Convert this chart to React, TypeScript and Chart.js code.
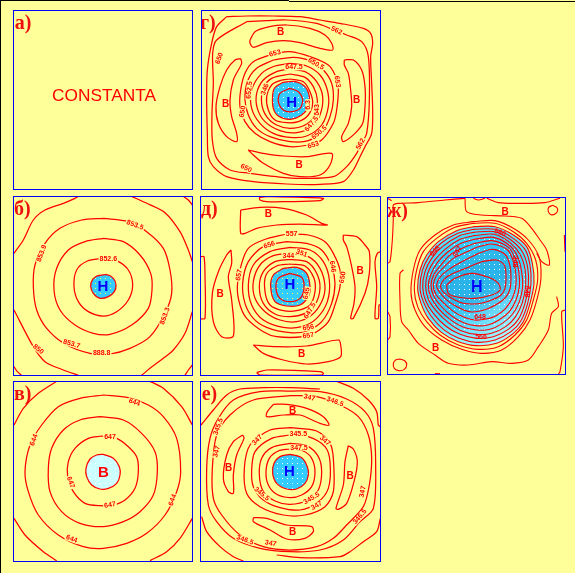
import React, { useEffect, useRef } from "react";
import { Chart, registerables } from "chart.js";

Chart.register(...registerables);

// All contour coordinates are flat x,y lists, in each panel's own 0.33 px map units.
const LINE = "#FF0000";
const BG = "#FFFF99";

// panel г
const gClosed = [
  [680,50,740,48,820,48,900,50,960,60,1020,70,1090,85,1112,100,1118,130,1112,170,1115,250,1118,330,1115,400,1095,440,1080,470,1060,510,1030,545,960,553,860,552,760,545,680,530,640,500,625,470,622,400,620,300,622,210,635,130,650,80],
  [740,65,800,62,860,60,950,70,990,85,1040,105,1085,125,1105,170,1108,300,1100,400,1085,430,1070,460,1040,500,1000,530,900,535,830,530,750,520,690,510,650,475,637,420,636,340,640,250,638,160,650,120],
  [750,120,765,95,800,82,860,75,930,85,975,105,995,130,998,150,960,145,900,128,850,122,800,128,760,142,750,130],
  [1033,180,1060,180,1085,210,1095,260,1095,320,1088,370,1065,400,1030,425,1025,410,1045,370,1055,320,1052,270,1045,220,1033,195],
  [745,450,790,460,850,468,920,470,995,460,990,495,960,525,900,530,850,520,790,490,760,465],
  [722,176,725,190,700,240,690,300,695,350,710,400,710,425,680,410,655,370,648,320,660,260,680,210,705,180],
  [825,160,870,155,930,170,985,195,1005,225,1015,265,1010,330,1000,370,965,420,925,435,870,440,810,425,765,400,735,365,720,320,722,270,735,220,760,185],
  [820,180,880,172,930,182,970,210,995,250,1000,300,990,350,970,390,925,422,870,425,810,410,770,385,745,345,735,300,742,245,770,205],
  [870,190,920,198,960,225,982,270,985,320,965,375,920,408,870,412,820,400,780,370,755,325,755,270,785,220,825,198],
  [870,207,915,215,950,245,968,290,960,345,935,380,890,398,840,392,795,365,772,325,770,280,790,240,830,215],
  [870,222,915,232,940,260,952,300,945,345,915,375,870,385,830,375,800,350,785,310,790,265,815,235],
  [870,237,910,245,930,275,938,310,925,345,895,365,860,368,825,360,805,330,800,290,815,255,840,242],
];
const gFill = [850,247,885,245,915,260,928,290,925,320,905,345,870,358,835,348,820,325,818,285,825,262];
const gInner = [870,265,895,275,908,300,900,325,875,335,850,330,835,305,840,280];
const gLabels: [string, number, number, number][] = [
  ["В",842,97,0],["В",1070,300,0],["В",897,495,0],["В",677,313,0],
];
const gSmall: [string, number, number, number][] = [
  ["562",1010,92,25],["650",658,175,-70],["653",825,160,-15],["650.5",948,192,30],["647.5",882,202,0],
  ["652.5",748,270,-85],["346",795,268,-70],["6.3",925,315,-90],["643",950,330,-90],["647.5",935,372,-50],
  ["650.5",958,398,-40],["653",940,435,-20],["653",1012,245,80],["562",1082,432,-60],["650",738,505,25],["650",728,335,-80],
];

// panel б
const bClosed = [
  [310,205,350,212,385,240,398,285,385,330,350,365,310,378,265,365,235,335,222,290,230,240,262,213],
  [310,145,370,155,420,195,452,250,456,300,445,355,395,405,330,433,280,430,225,405,180,360,162,300,170,235,205,180,255,155],
  [310,85,385,95,440,125,490,175,510,240,515,310,495,370,450,440,390,475,330,492,270,490,195,462,140,415,110,360,100,290,105,225,135,160,180,115,245,90],
];
const bOpen = [
  [42,190,70,150,100,90,135,60,190,40,225,25,235,19],
  [395,19,445,42,495,68,540,125,565,180,577,215],
  [577,365,555,430,520,480,490,505,450,535,425,556],
  [235,556,190,540,135,515,100,470,42,360],
  [550,19,565,30,577,45],[42,530,52,545,65,556],[555,556,565,540,577,525],
];
const bFill = [290,258,320,254,340,265,348,285,343,305,325,320,300,325,280,310,272,288,278,268];
const bSmall: [string, number, number, number][] = [
  ["852.6",325,207,0],["853.5",405,105,20],["853.9",125,190,-70],["853.3",495,378,-70],
  ["853.7",215,462,15],["888.8",305,490,0],["850",115,478,40],
];

// panel в
const vClosed = [
  [305,183,350,190,385,215,410,245,415,290,405,340,375,375,340,390,300,392,255,385,220,350,203,305,205,260,225,220,265,190],
  [300,125,370,135,425,175,465,230,472,290,460,360,420,410,370,440,310,455,240,445,185,410,150,350,145,280,155,220,190,165,240,135],
  [310,60,385,68,445,90,490,125,530,190,542,290,530,350,495,420,440,475,380,505,310,520,250,515,175,480,115,420,85,350,75,290,90,210,125,150,175,95,240,70],
];
const vOpen = [
  [42,150,70,100,115,55,170,19],[450,19,490,40,545,95,577,150],
  [577,430,540,490,500,530,450,557],[170,557,130,530,75,480,42,430],
];
const vFill = [310,238,340,250,358,275,360,300,350,325,325,340,300,342,275,330,260,305,258,280,270,252,290,240];
const vSmall: [string, number, number, number][] = [
  ["647",330,185,0],["647",212,322,70],["647",330,390,-10],["644",403,82,20],
  ["644",102,195,-70],["644",518,375,-70],["644",215,492,20],
];

// panel д
const dClosed = [
  [860,132,925,135,975,155,1000,190,1020,240,1020,290,1005,345,985,395,950,425,910,440,830,440,790,425,740,385,720,345,712,290,725,220,745,175,790,150],
  [860,155,920,160,965,180,995,230,1005,280,995,340,965,395,920,423,870,428,800,412,760,385,735,340,728,280,745,215,790,170],
  [870,172,930,180,970,215,988,270,982,335,950,385,905,410,850,412,790,390,755,345,745,285,760,225,810,185],
  [870,190,925,200,960,235,975,290,965,335,935,375,890,395,840,390,795,365,765,325,760,275,780,225,820,197],
  [870,208,920,215,950,250,960,295,945,345,915,370,870,380,825,372,790,340,778,290,790,245,825,215],
  [870,222,915,228,942,265,945,305,930,345,890,362,850,362,810,345,795,305,798,255,830,228],
  [722,60,780,52,850,55,920,75,965,100,982,105,900,102,830,105,770,115,735,130,722,130],
  [778,22,800,20,970,25,960,32,860,35,800,35,780,30],
  [1030,135,1070,140,1095,165,1108,185,1108,250,1095,310,1060,385,1052,385,1062,340,1065,290,1055,230,1040,170,1030,150],
  [693,180,695,220,685,260,695,330,700,438,665,440,640,395,637,310,655,245,680,195],
  [760,465,830,470,920,468,1015,450,1022,465,1022,500,985,515,920,522,850,510,790,490],
  [770,548,800,540,960,545,970,550,965,555,780,555],
];
const dOpen = [
  [1141,185,1132,190,1125,215,1130,290,1125,385,1135,385,1137,345,1141,345],
  [603,200,612,200,615,260,615,385,603,387],
];
const dFill = [850,235,890,232,920,250,930,290,925,320,900,345,860,348,825,335,812,290,820,255];
const dInner = [870,250,905,262,912,295,900,325,870,335,840,325,828,295,835,265];
const dLabels: [string, number, number, number][] = [
  ["В",805,72,0],["В",1080,245,0],["В",660,313,0],["В",905,493,0],
];
const dSmall: [string, number, number, number][] = [
  ["557",875,132,0],["656",808,165,-20],["351",905,190,20],["344",865,198,0],["646",998,230,80],
  ["650",1028,262,-80],["657",717,255,-80],["645",920,310,-80],["647.5",930,362,-60],["656",925,413,-10],["657",925,437,-10],
];

// panel е
const eClosed = [
  [870,222,910,228,935,250,945,290,935,335,905,360,870,368,830,358,805,330,798,290,808,250,835,228],
  [870,205,920,212,955,245,965,290,955,345,925,375,870,388,825,378,790,350,778,300,785,250,815,218],
  [870,180,925,185,975,215,990,260,985,340,950,385,900,405,840,398,790,375,760,335,755,285,765,230,815,190],
  [870,158,950,168,990,205,1000,250,1000,350,975,395,915,420,850,420,780,395,740,355,733,280,750,210,810,165],
  [820,88,860,88,920,100,970,125,987,150,960,145,900,120,850,120,800,125,802,110],
  [1045,212,1060,222,1072,260,1062,320,1040,385,1015,403,1008,400,1030,330,1035,260],
  [728,180,732,190,710,240,700,300,700,355,685,350,670,310,680,240,700,200],
  [760,428,800,430,860,450,935,455,940,470,915,490,860,492,810,465,760,440],
  [870,62,950,65,1020,90,1075,125,1105,180,1115,250,1108,330,1090,395,1040,450,1000,490,950,515,870,525,790,515,720,480,665,420,640,370,637,280,650,180,690,120,760,75],
  [870,48,960,50,1040,72,1095,110,1120,160,1127,270,1120,400,1080,440,1030,495,960,525,870,530,780,520,700,490,650,440,625,390,620,280,630,190,655,130,700,75,780,50],
];
const eOpen = [
  [603,150,640,105,680,60,720,42,790,38,870,38,960,42],
  [1010,19,1060,40,1105,75,1130,110,1135,150,1141,155],
  [1141,430,1130,470,1090,500,1050,530,1020,545,900,548,830,540],
  [605,425,620,470,660,515,700,545,730,558],
];
const eFill = [870,238,905,248,922,275,925,300,915,325,890,342,860,342,830,325,818,295,822,265,840,245];
const eLabels: [string, number, number, number][] = [
  ["В",878,110,0],["В",1050,303,0],["В",686,280,0],["В",878,472,0],
];
const eSmall: [string, number, number, number][] = [
  ["347.5",897,218,0],["345.5",895,178,0],["347",772,195,-45],["347",975,197,40],["347",928,68,15],
  ["346.5",1005,80,20],["345.5",655,155,-70],["347",650,230,-75],["345.5",785,357,40],["345.5",935,370,-30],
  ["347",950,392,-30],["347",1088,350,-80],["346.5",1080,425,-50],["346.5",735,495,20],["347",812,505,10],
];

// panel ж
const zhRings = [
  [265,110,330,110,385,135,425,170,442,220,447,280,435,340,415,395,385,430,335,460,275,467,220,455,170,428,130,385,108,340,98,295,105,240,125,195,160,155,215,122],
  [265,118,330,118,380,142,420,178,435,225,438,280,428,340,408,392,378,425,330,450,275,457,222,445,175,418,138,378,115,335,105,293,112,242,132,200,165,162,218,130],
  [265,127,330,125,378,150,412,185,428,232,430,285,420,340,400,388,370,418,325,440,275,445,225,433,182,408,145,370,122,332,113,292,120,245,140,205,172,170,222,138],
  [265,137,328,133,375,158,405,193,420,238,422,288,412,338,392,380,362,410,320,430,275,433,228,422,190,398,153,362,130,328,122,290,128,250,148,212,180,178,225,148],
  [268,148,325,142,372,165,398,200,410,245,413,290,403,335,383,372,352,400,315,418,275,420,232,410,195,388,160,355,138,322,130,288,137,255,157,218,188,186,228,160],
  [270,160,320,152,370,172,392,208,402,250,403,290,393,330,373,365,342,390,308,405,272,407,236,398,200,378,168,348,146,318,138,285,146,255,168,225,195,195,232,175],
  [275,172,320,162,368,180,385,215,393,255,392,292,382,325,362,355,332,378,300,388,268,390,238,382,205,364,175,338,152,312,145,285,155,255,178,230,205,205,240,188],
  [280,190,325,178,362,195,375,228,378,262,375,297,362,322,340,340,312,355,285,363,260,366,236,360,208,346,183,328,163,306,155,285,168,258,192,238,218,222,250,205],
  [290,215,335,210,358,225,363,255,360,295,348,315,325,328,295,338,265,342,235,340,210,330,190,318,172,303,167,285,180,265,205,250,235,238,265,225],
  [185,285,210,265,260,250,310,262,340,280,345,300,320,315,270,325,220,322,190,310],
];
const zhRingColors = ["#66EEFF","#55E5FF","#44DDFF","#3CD5FF","#33CCFF","#33CCFF","#33C4F8","#2DB8EC","#2AB4EA","#2AB4EA"];
const zhClosed = [
  [265,95,330,92,385,115,430,150,462,200,468,260,458,320,435,390,400,440,350,480,290,490,230,478,170,450,120,410,90,360,78,310,85,240,105,180,150,135,205,105],
  [265,100,330,100,385,125,425,160,452,210,458,270,445,330,425,390,390,435,340,470,280,478,220,465,165,435,125,395,98,350,88,300,95,240,115,185,155,145,210,112],
  [503,46,515,52,518,62,510,72,498,74,490,65,491,52],
  [45,507,60,513,65,525,58,538,42,542,28,535,25,520,32,510],
];
const zhOpen = [
  [240,25,245,65,290,75,360,78,410,85,440,115,465,150,485,180,493,225,470,215,455,190],
  [515,320,520,350,500,370,490,420,460,470,430,510,380,520,320,515,250,525,190,520,150,495,100,460,70,420,50,395,45,330,45,250,55,240],
  [240,25,180,30,100,38,40,40,25,45,25,80,22,150,15,215,8,220],
  [305,25,340,38,400,40,480,38,525,25],
  [8,365,15,380,15,440,8,450],[541,360,530,365,535,470,525,545,520,553],
  [538,135,539,160,540,185],[150,551,165,551],[265,25,280,30,300,25],[8,25,20,32],
];
const zhLabels: [string, number, number, number][] = [["В",360,68,0],["В",152,475,0]];
const zhSmall: [string, number, number, number][] = [
  ["648",285,380,0],["566",288,442,0],["560",345,128,20],["648",150,183,-45],["647",218,185,-60],["348",390,215,90],["648",425,305,90],
];

type Fill = { pts: number[]; color: string; dot?: string };
type Panel = {
  left: number; top: number; width: number; height: number; ox: number; oy: number;
  title: string; tx: number; ty: number;
  fills: Fill[];
  closed: number[][]; open: number[][];
  labels: [string, number, number, number][]; small: [string, number, number, number][];
  center?: [string, number, number, string, number]; text?: [string, number, number];
  noHalo?: boolean; lineWidth: number;
};

const panels: Panel[] = [
  { left: 13, top: 10, width: 180, height: 180, ox: 0, oy: 0, title: "а)", tx: 44, ty: 88, fills: [], closed: [], open: [], labels: [], small: [], text: ["CONSTANTA", 312, 290], lineWidth: 1.25 },
  { left: 201, top: 10, width: 180, height: 180, ox: 0, oy: 0, title: "г)", tx: 600, ty: 88, fills: [{ pts: gFill, color: "#33CCFF", dot: "#FFFFFF" }], closed: [...gClosed, gFill, gInner], open: [], labels: gLabels, small: gSmall, center: ["Н", 875, 310, "#0000FF", 15], lineWidth: 1.25 },
  { left: 13, top: 196, width: 180, height: 180, ox: 0, oy: 190, title: "б)", tx: 42, ty: 74, fills: [{ pts: bFill, color: "#33CCFF", dot: "#FFFF66" }], closed: [...bClosed, bFill], open: bOpen, labels: [], small: bSmall, center: ["Н", 309, 291, "#0000FF", 15], lineWidth: 1.25 },
  { left: 200, top: 196, width: 181, height: 180, ox: 0, oy: 190, title: "д)", tx: 603, ty: 74, fills: [{ pts: dFill, color: "#33CCFF", dot: "#FFFF66" }], closed: [...dClosed, dFill, dInner], open: dOpen, labels: dLabels, small: dSmall, center: ["Н", 870, 285, "#0000FF", 15], lineWidth: 1.25 },
  { left: 13, top: 381, width: 180, height: 181, ox: 0, oy: 375, title: "в)", tx: 42, ty: 75, fills: [{ pts: vFill, color: "#CCFFFF", dot: "#FFFFFF" }], closed: [...vClosed, vFill], open: vOpen, labels: [], small: vSmall, center: ["В", 310, 295, "#FF0000", 15], lineWidth: 1.25 },
  { left: 200, top: 381, width: 181, height: 181, ox: 0, oy: 375, title: "е)", tx: 605, ty: 75, fills: [{ pts: eFill, color: "#33CCFF", dot: "#FFFFFF" }], closed: [...eClosed, eFill], open: eOpen, labels: eLabels, small: eSmall, center: ["Н", 868, 290, "#0000FF", 15], lineWidth: 1.25 },
  { left: 387, top: 197, width: 179, height: 178, ox: 385, oy: 190, title: "ж)", tx: 5, ty: 82, fills: [...zhRings.map((pts, i) => ({ pts, color: zhRingColors[i] })), { pts: zhRings[3], color: "transparent", dot: "#FFFFFF" }], closed: [...zhClosed, ...zhRings], open: zhOpen, labels: zhLabels, small: zhSmall, center: ["Н", 275, 292, "#0000FF", 16], noHalo: true, lineWidth: 1.1 },
];

const toPoints = (flat: number[], close: boolean) => {
  const out: { x: number; y: number }[] = [];
  for (let i = 0; i < flat.length; i += 2) out.push({ x: flat[i], y: flat[i + 1] });
  if (close) out.push({ x: flat[0], y: flat[1] });
  return out;
};

const stipple = (color: string, dot: string) => {
  const tile = document.createElement("canvas");
  tile.width = 5;
  tile.height = 5;
  const c = tile.getContext("2d")!;
  c.fillStyle = color;
  c.fillRect(0, 0, 5, 5);
  c.fillStyle = dot;
  c.fillRect(2, 2, 1, 1);
  return c.createPattern(tile, "repeat")!;
};

// Level colours pale towards the lower right, as in the last panel of the figure.
const paling = (ctx: CanvasRenderingContext2D, color: string) => {
  const g = ctx.createLinearGradient(70, 50, 140, 150);
  g.addColorStop(0, color);
  g.addColorStop(0.4, color);
  g.addColorStop(1, "#CCFFFF");
  return g;
};

function PanelChart({ p }: { p: Panel }) {
  const ref = useRef<HTMLCanvasElement>(null);
  useEffect(() => {
    const c2d = ref.current!.getContext("2d")!;
    const fillSets = p.fills.map((f) => ({
      data: toPoints(f.pts, true), showLine: true, pointRadius: 0, borderWidth: 0, borderColor: "transparent",
      backgroundColor: f.dot ? stipple(f.color, f.dot) : paling(c2d, f.color), fill: "shape", tension: 0.3,
    }));
    const lineSets = [
      ...p.closed.map((pts) => toPoints(pts, true)),
      ...p.open.map((pts) => toPoints(pts, false)),
    ].map((data) => ({
      data, showLine: true, pointRadius: 0, borderWidth: p.lineWidth, borderColor: LINE, backgroundColor: "transparent", fill: false, tension: 0.3,
    }));
    // The first dataset is painted last, so the fills go at the end of the list, innermost ring ahead of outer ones.
    const datasets = [...lineSets, ...fillSets.reverse()];
    const panelText = {
      id: "panelText",
      afterDatasetsDraw(chart: any) {
        const { ctx, scales: { x, y }, width, height } = chart;
        ctx.save();
        ctx.textAlign = "center";
        ctx.textBaseline = "middle";
        const put = (s: string, vx: number, vy: number, rot: number, font: string, color: string, halo: boolean) => {
          ctx.save();
          ctx.translate(x.getPixelForValue(vx), y.getPixelForValue(vy));
          ctx.rotate((rot * Math.PI) / 180);
          ctx.font = font;
          if (halo) {
            const w = ctx.measureText(s).width;
            ctx.fillStyle = BG;
            ctx.fillRect(-w / 2 - 1, -3, w + 2, 6);
          }
          ctx.fillStyle = color;
          ctx.fillText(s, 0, 0);
          ctx.restore();
        };
        p.small.forEach(([s, vx, vy, r]) => put(s, vx, vy, r, 'bold 7px "Liberation Sans"', LINE, !p.noHalo));
        p.labels.forEach(([s, vx, vy, r]) => put(s, vx, vy, r, 'bold 10px "Liberation Sans"', LINE, false));
        if (p.center) put(p.center[0], p.center[1], p.center[2], 0, `bold ${p.center[4]}px "Liberation Sans"`, p.center[3], false);
        if (p.text) put(p.text[0], p.text[1], p.text[2], 0, '17.3px "Liberation Sans"', LINE, false);
        ctx.textAlign = "left";
        ctx.textBaseline = "alphabetic";
        ctx.font = 'bold 20px "Liberation Serif"';
        ctx.fillStyle = "#EE1111";
        ctx.fillText(p.title, x.getPixelForValue(p.tx), y.getPixelForValue(p.ty));
        ctx.strokeStyle = "#0000FF";
        ctx.lineWidth = 1;
        ctx.strokeRect(0.5, 0.5, width - 1, height - 1);
        ctx.restore();
      },
    };
    const chart = new Chart(ref.current!, {
      type: "scatter",
      data: { datasets: datasets as any },
      options: {
        animation: false,
        responsive: false,
        events: [],
        layout: { padding: 0 },
        plugins: { legend: { display: false }, tooltip: { enabled: false } },
        scales: {
          x: { type: "linear", display: false, min: (p.left - p.ox) * 3, max: (p.left + p.width - p.ox) * 3 },
          y: { type: "linear", display: false, reverse: true, min: (p.top - p.oy) * 3, max: (p.top + p.height - p.oy) * 3 },
        },
      },
      plugins: [panelText],
    });
    return () => chart.destroy();
  }, [p]);
  return (
    <canvas
      ref={ref}
      width={p.width}
      height={p.height}
      style={{ position: "absolute", left: p.left, top: p.top, width: p.width, height: p.height, display: "block" }}
    />
  );
}

export default function App() {
  return (
    <div style={{ position: "fixed", left: 0, top: 0, width: 575, height: 573, background: BG, overflow: "hidden" }}>
      <div style={{ position: "absolute", left: 0, top: 0, width: 1, height: 573, background: "#000" }} />
      <div style={{ position: "absolute", left: 0, top: 0, width: 289, height: 1, background: "#000" }} />
      <div style={{ position: "absolute", left: 289, top: 1, width: 286, height: 1, background: "#000" }} />
      {panels.map((p) => (
        <PanelChart key={p.title} p={p} />
      ))}
    </div>
  );
}
